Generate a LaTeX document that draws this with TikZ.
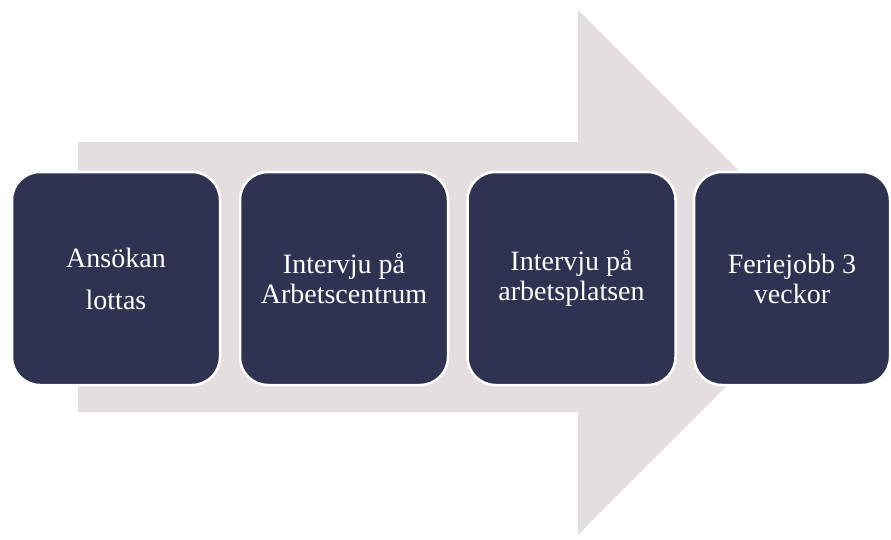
\documentclass[tikz,border=0pt]{standalone}
\usepackage{fontspec}
\setmainfont{Liberation Serif}
\definecolor{arrowgrey}{RGB}{228,222,225}
\definecolor{boxnavy}{RGB}{47,50,80}
\begin{document}
\begin{tikzpicture}[x=1pt,y=-1pt]
      \useasboundingbox (0,0) rectangle (891,539);
      \fill[arrowgrey] (78,142) -- (578,142) -- (578,10) -- (840,272)
        -- (578,535) -- (578,412) -- (78,412) -- cycle;
      \begin{scope}[every node/.style={rounded corners=28pt,fill=boxnavy,draw=white,
          line width=2.5pt,minimum width=208pt,minimum height=213pt,text=white,
          align=center,font=\fontsize{28}{30}\selectfont}]
        \node (ansokan) at (116,278.5) {Ansökan\\[12pt]lottas};
        \node (intervjuac) at (344,278.5) {Intervju på\\Arbetscentrum};
        \node (intervjuap) at (571.5,278.5) {Intervju på\\arbetsplatsen};
        \node[minimum width=196pt] (feriejobb) at (792,278.5) {Feriejobb 3\\veckor};
      \end{scope}
    \end{tikzpicture}
\end{document}
